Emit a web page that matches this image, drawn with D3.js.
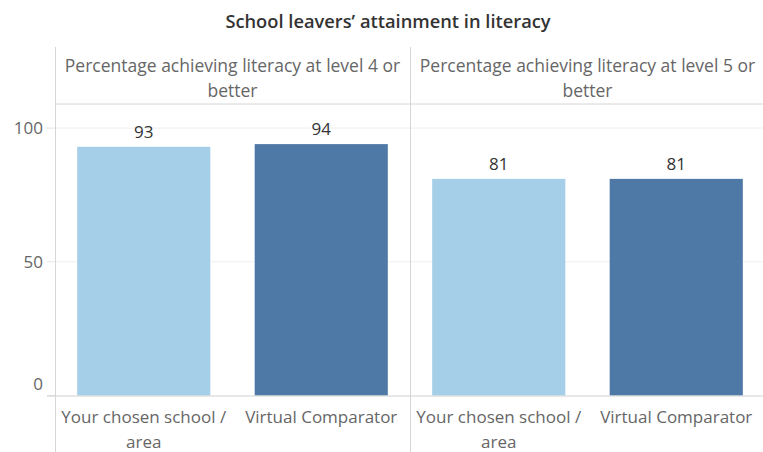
<!DOCTYPE html>
<html lang="en">
<head>
<meta charset="UTF-8">
<title>School leavers’ attainment in literacy</title>
<script src="https://d3js.org/d3.v7.min.js"></script>
<style>
  body { margin: 0; background: #fff; }
  text { font-family: "Open Sans", "Noto Sans", sans-serif; }
</style>
</head>
<body>
<div id="chart"></div>
<script>
// data
var measures = [
  ["Percentage achieving literacy at level 4 or", "better"],
  ["Percentage achieving literacy at level 5 or", "better"]
];
var groups = [["Your chosen school /", "area"], ["Virtual Comparator"]];
var level4 = [93, 94];
var level5 = [81, 81];
var yTicks = [0, 50, 100];
var colors = ["#a5cee8", "#4e79a7"];

var values = [level4, level5];

var W = 763, H = 452;
var left = 55, right = 765, headTop = 47, headBottom = 104, plotBottom = 395.5;

var svg = d3.select("#chart").append("svg")
  .attr("width", W).attr("height", H);

// title
svg.append("text")
  .attr("x", 388).attr("y", 28)
  .attr("text-anchor", "middle")
  .style("font-size", "18.3px").style("font-weight", 600)
  .style("fill", "#333")
  .text("School leavers’ attainment in literacy");

var outer = d3.scaleBand().domain(d3.range(measures.length)).range([left, right]);
var inner = d3.scaleBand().domain(d3.range(groups.length))
  .range([0, outer.bandwidth()]).paddingInner(0.25).paddingOuter(0.125);
var y = d3.scaleLinear().domain([0, 109]).range([plotBottom, headBottom]);

// gridlines + y ticks
svg.append("g").selectAll("line").data(yTicks.filter(function(d) { return d > 0; }))
  .enter().append("line")
  .attr("x1", left).attr("x2", W)
  .attr("y1", function(d) { return y(d); }).attr("y2", function(d) { return y(d); })
  .style("stroke", "#efefef").style("stroke-width", 1);

svg.append("g").selectAll("line").data(yTicks)
  .enter().append("line")
  .attr("x1", left - 8).attr("x2", left)
  .attr("y1", function(d) { return y(d); }).attr("y2", function(d) { return y(d); })
  .style("stroke", "#e4e4e4");

svg.append("g").selectAll("text").data(yTicks)
  .enter().append("text")
  .attr("x", 43).attr("y", function(d) { return Math.min(y(d), plotBottom - 11); })
  .attr("dy", "0.35em")
  .attr("text-anchor", "end")
  .style("font-size", "17px").style("fill", "#666")
  .text(function(d) { return d; });

// panels
var panel = svg.selectAll(".panel").data(measures).enter().append("g")
  .attr("class", "panel")
  .attr("transform", function(d, i) { return "translate(" + outer(i) + ",0)"; });

panel.selectAll("text.head").data(function(d) { return d; })
  .enter().append("text")
  .attr("class", "head")
  .attr("x", outer.bandwidth() / 2)
  .attr("y", function(d, i) { return 72 + i * 25; })
  .attr("text-anchor", "middle")
  .style("font-size", "17.5px").style("fill", "#666")
  .text(function(d) { return d; });

panel.selectAll("rect").data(function(d, i) { return values[i]; })
  .enter().append("rect")
  .attr("x", function(d, j) { return inner(j); })
  .attr("width", inner.bandwidth())
  .attr("y", function(d) { return y(d); })
  .attr("height", function(d) { return plotBottom - y(d); })
  .style("fill", function(d, j) { return colors[j]; });

panel.selectAll("text.val").data(function(d, i) { return values[i]; })
  .enter().append("text")
  .attr("class", "val")
  .attr("x", function(d, j) { return inner(j) + inner.bandwidth() / 2; })
  .attr("y", function(d) { return y(d) - 9; })
  .attr("text-anchor", "middle")
  .style("font-size", "17px").style("fill", "#333")
  .text(function(d) { return d; });

// x labels
panel.each(function() {
  var g = d3.select(this);
  groups.forEach(function(lines, j) {
    g.selectAll(null).data(lines).enter().append("text")
      .attr("x", inner(j) + inner.bandwidth() / 2)
      .attr("y", function(d, k) { return 423 + k * 25; })
      .attr("text-anchor", "middle")
      .style("font-size", "17px").style("fill", "#666")
      .text(function(d) { return d; });
  });
});

// frame lines
svg.append("line").attr("x1", left).attr("x2", W).attr("y1", headBottom).attr("y2", headBottom)
  .style("stroke", "#d6d6d6");
svg.append("line").attr("x1", left - 8).attr("x2", W).attr("y1", plotBottom + 0.5).attr("y2", plotBottom + 0.5)
  .style("stroke", "#d0d0d0");
svg.selectAll("line.div").data(d3.range(measures.length)).enter().append("line")
  .attr("class", "div")
  .attr("x1", function(i) { return Math.round(outer(i)) + 0.5; })
  .attr("x2", function(i) { return Math.round(outer(i)) + 0.5; })
  .attr("y1", headTop).attr("y2", H)
  .style("stroke", "#d6d6d6");
</script>
</body>
</html>
